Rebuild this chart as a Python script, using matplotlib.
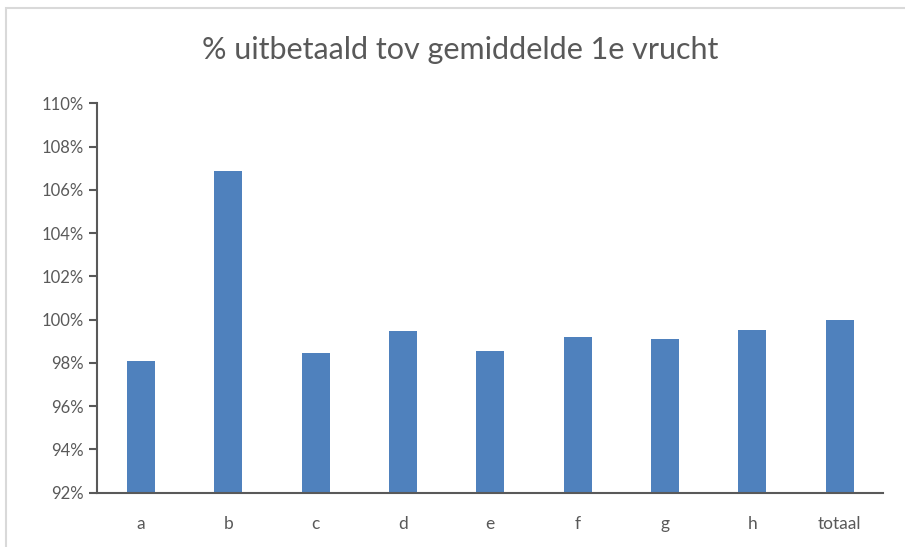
import matplotlib
matplotlib.use("Agg")
import matplotlib.pyplot as plt
from matplotlib.patches import Rectangle
from matplotlib.ticker import FuncFormatter, MultipleLocator

categories = ["a", "b", "c", "d", "e", "f", "g", "h", "totaal"]
values = [98.07, 106.85, 98.48, 99.49, 98.54, 99.22, 99.09, 99.54, 99.98]
title = "% uitbetaald tov gemiddelde 1e vrucht"

plt.rcParams['font.family'] = ['Lato', 'DejaVu Sans']

fig = plt.figure(figsize=(9.05, 5.47), dpi=100)
fig.patches.append(Rectangle((6/905, -0.1), 1.2, 1 - 8/547 + 0.1, transform=fig.transFigure,
                             fill=False, edgecolor='#d9d9d9', linewidth=1.5))
ax = fig.add_axes([97.3/905, 1 - 492.7/547, (883.3 - 97.3)/905, (492.7 - 103.3)/547])

x = list(range(len(categories)))
ax.bar(x, values, width=0.32, color='#4F81BD', bottom=0)
ax.set_xlim(-0.5, len(categories) - 0.5)
ax.set_ylim(92, 110)
ax.yaxis.set_major_locator(MultipleLocator(2))
ax.yaxis.set_major_formatter(FuncFormatter(lambda v, p: f"{v:.0f}%"))
ax.set_xticks(x)
ax.set_xticklabels(categories)

for s in ['top', 'right']:
    ax.spines[s].set_visible(False)
for s in ['left', 'bottom']:
    ax.spines[s].set_color('#595959')
    ax.spines[s].set_linewidth(1.5)
ax.tick_params(axis='y', length=6, width=1.5, color='#595959', labelcolor='#595959', labelsize=12, pad=4)
ax.tick_params(axis='x', length=0, labelcolor='#595959', labelsize=12.5, pad=17)

fig.text(0.508, 1 - 50/547, title, ha='center', va='center', fontsize=22, color='#595959')

fig.savefig("out.png", dpi=100)
